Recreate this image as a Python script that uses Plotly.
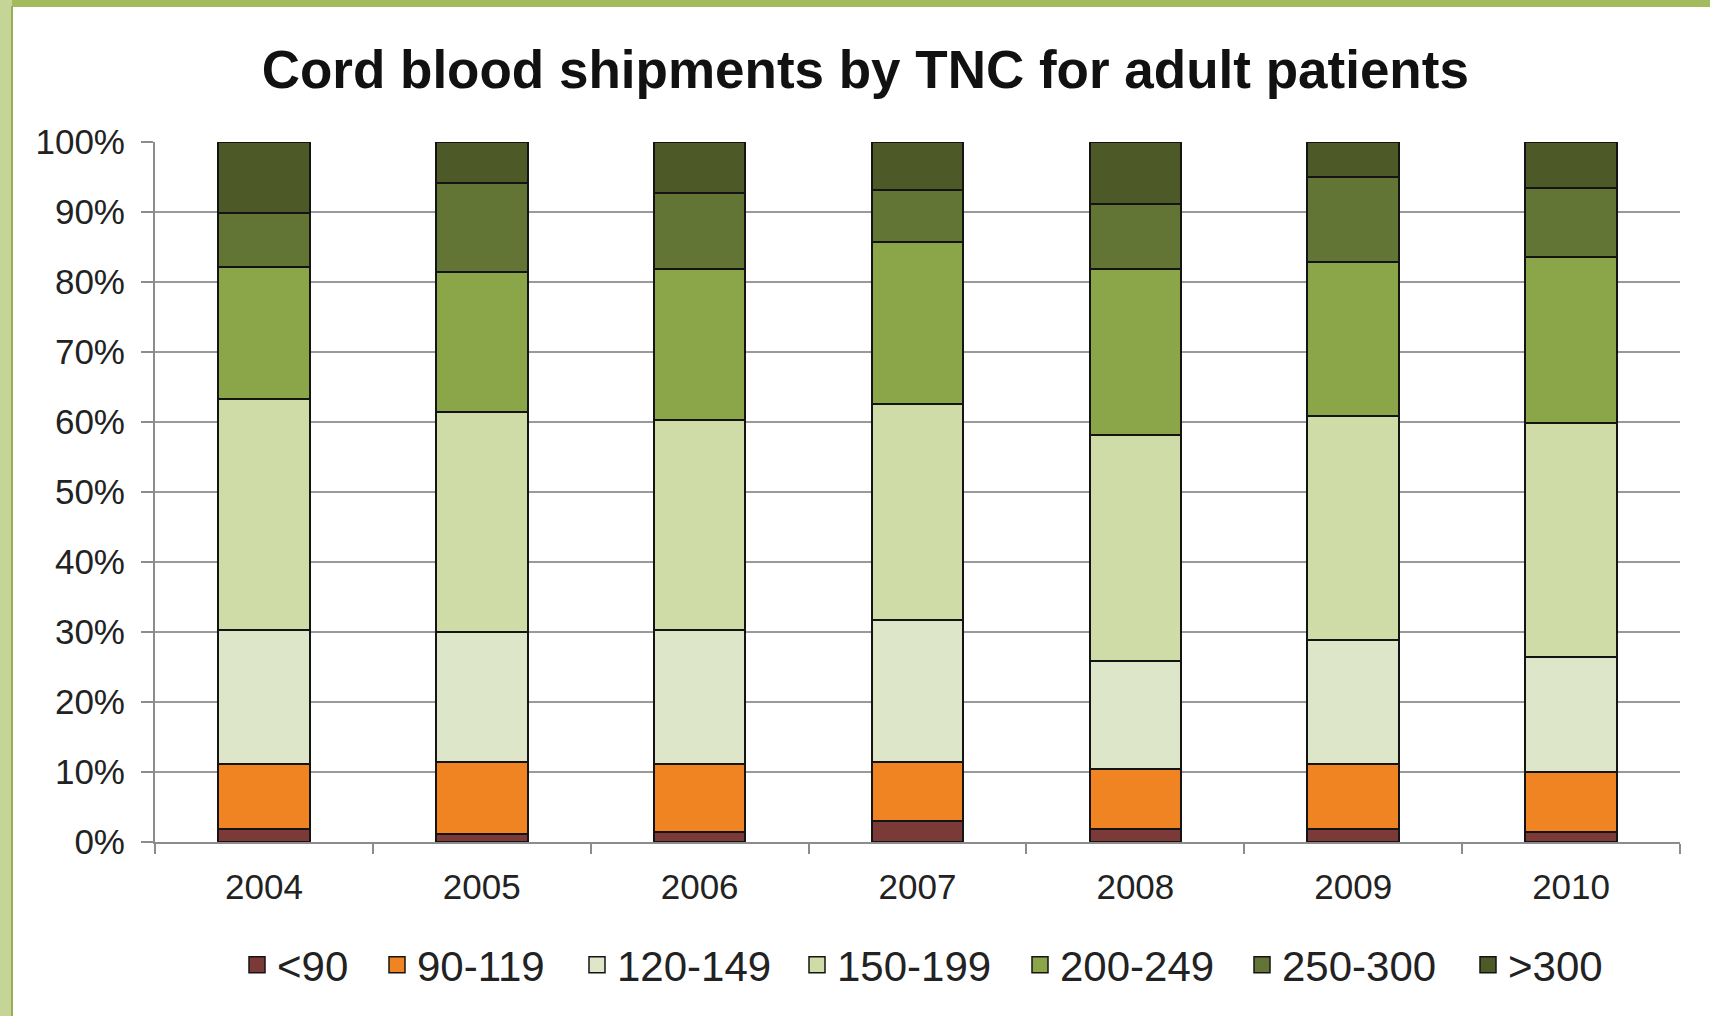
import plotly.graph_objects as go

years = ["2004", "2005", "2006", "2007", "2008", "2009", "2010"]
series_names = ["<90", "90-119", "120-149", "150-199", "200-249", "250-300", ">300"]

lt90 = [1.9, 1.1, 1.4, 3.0, 1.9, 1.9, 1.4]
s90_119 = [9.3, 10.4, 9.7, 8.5, 8.5, 9.2, 8.6]
s120_149 = [19.1, 18.5, 19.2, 20.2, 15.4, 17.8, 16.5]
s150_199 = [33.0, 31.4, 30.0, 30.9, 32.3, 31.9, 33.4]
s200_249 = [18.9, 20.0, 21.5, 23.1, 23.7, 22.1, 23.7]
s250_300 = [7.6, 12.8, 10.9, 7.4, 9.4, 12.1, 9.8]
gt300 = [10.2, 5.8, 7.3, 6.9, 8.8, 5.0, 6.6]

series_values = [lt90, s90_119, s120_149, s150_199, s200_249, s250_300, gt300]
colors = ["#7b3a38", "#f08422", "#dde6c8", "#cfdca8", "#8aa648", "#627535", "#4d5a28"]

y_ticks = list(range(0, 101, 10))
y_tick_labels = [f"{v}%" for v in y_ticks]

FONT = "Liberation Sans, Arial, sans-serif"

W, H = 1710, 1016
L, R, T, B = 155, 30, 142, 174
pw, ph = W - L - R, H - T - B

def px_x(px):
    return (px - L) / pw

def px_y(py):
    return (H - B - py) / ph

# left edges (page px) of the legend entries' squares
legend_square_left = [249, 389, 589, 809, 1032, 1254, 1480]

fig = go.Figure()
for name, vals, col in zip(series_names, series_values, colors):
    fig.add_trace(go.Bar(
        x=years, y=vals, name=name, showlegend=False,
        marker=dict(color=col, line=dict(color="#141414", width=2)),
    ))

legend_layouts = {}
for i, (name, col, sq) in enumerate(zip(series_names, colors, legend_square_left)):
    key = "legend" if i == 0 else f"legend{i + 1}"
    fig.add_trace(go.Scatter(
        x=[None], y=[None], name=name, mode="markers", showlegend=True,
        legend=key,
        marker=dict(symbol="square", size=16, color=col,
                    line=dict(color="#141414", width=1.5)),
    ))
    legend_layouts[key] = dict(
        orientation="h",
        x=px_x(sq - 12), xanchor="left",
        y=px_y(965), yanchor="middle",
        font=dict(family=FONT, size=42, color="#222222"),
        bgcolor="rgba(0,0,0,0)",
        borderwidth=0,
        itemclick=False, itemdoubleclick=False,
        itemsizing="trace",
    )

fig.update_layout(
    width=W, height=H,
    barmode="stack",
    bargap=0.58,
    paper_bgcolor="white",
    plot_bgcolor="white",
    margin=dict(l=L, r=R, t=T, b=B, pad=0, autoexpand=False),
    title=dict(
        text="<b>Cord blood shipments by TNC for adult patients</b>",
        font=dict(family=FONT, size=53, color="#111111"),
        x=0.506, xanchor="center", y=0.932, yanchor="middle",
    ),
    font=dict(family=FONT, color="#222222"),
    showlegend=True,
    shapes=[
        dict(type="rect", xref="paper", yref="paper",
             x0=px_x(0), x1=px_x(W), y0=px_y(7), y1=px_y(0),
             fillcolor="#a3bb5c", line=dict(width=0), layer="above"),
        dict(type="rect", xref="paper", yref="paper",
             x0=px_x(0), x1=px_x(12), y0=px_y(H), y1=px_y(0),
             fillcolor="#c5d596", line=dict(width=0), layer="above"),
        dict(type="line", xref="paper", yref="paper",
             x0=px_x(12), x1=px_x(12), y0=px_y(H), y1=px_y(6),
             line=dict(color="#98ad5a", width=2), layer="above"),
    ],
    **legend_layouts,
)

fig.update_xaxes(
    type="category",
    showline=True, linecolor="#8c8c8c", linewidth=2,
    ticks="outside", tickson="boundaries", ticklen=10, tickcolor="#8c8c8c", tickwidth=2,
    tickfont=dict(family=FONT, size=35, color="#222222"),
    ticklabelstandoff=13,
    showgrid=False,
)

fig.update_yaxes(
    range=[0, 100],
    tickvals=y_ticks, ticktext=y_tick_labels,
    showline=True, linecolor="#8c8c8c", linewidth=2,
    ticks="outside", ticklen=12, tickcolor="#8c8c8c", tickwidth=2,
    showgrid=True, gridcolor="#9a9a9a", gridwidth=2,
    tickfont=dict(family=FONT, size=35, color="#222222"),
    ticklabelstandoff=9,
    zeroline=False,
)

fig.write_html(
    "out.html",
    config={"displayModeBar": False},
    post_script="document.body.style.margin='0';document.body.style.overflow='hidden';",
)
